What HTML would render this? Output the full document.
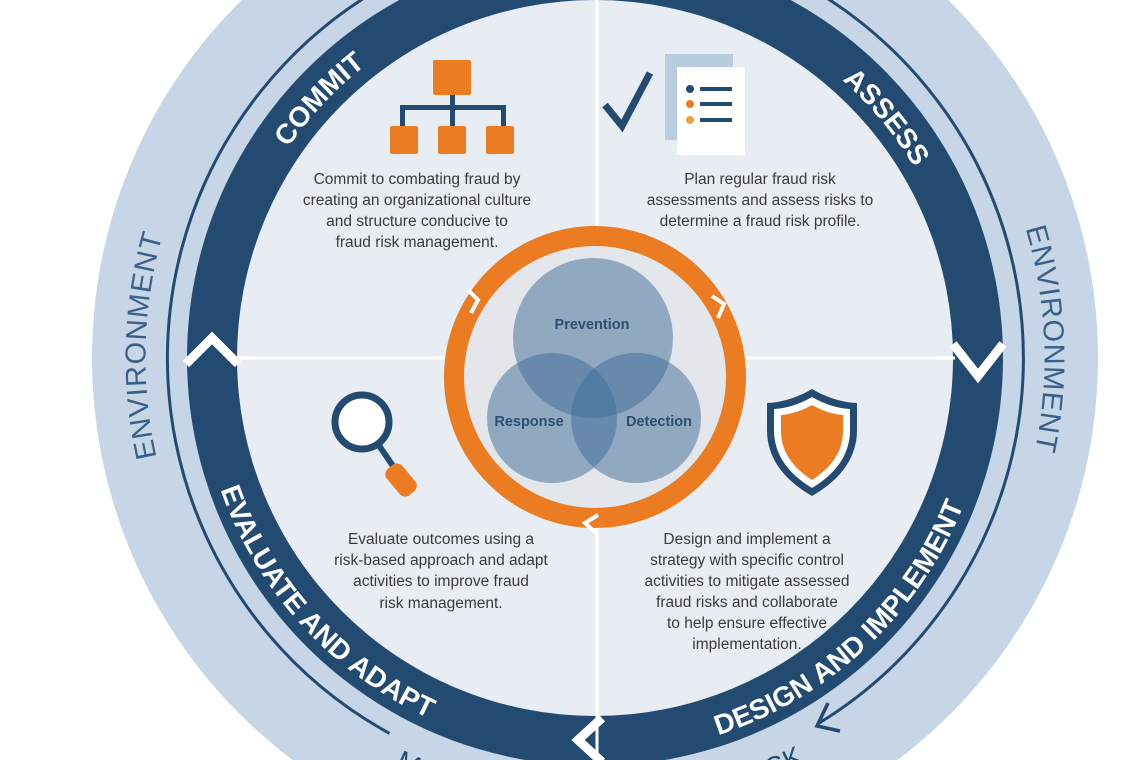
<!DOCTYPE html>
<html><head><meta charset="utf-8"><style>
html,body{margin:0;padding:0;background:#fff;overflow:hidden;}
svg{display:block;}
text{font-family:"Liberation Sans",Arial,sans-serif;}
</style></head><body>
<svg width="1140" height="760" viewBox="0 0 1140 760" xmlns="http://www.w3.org/2000/svg">
<defs>
<path id="topArc" d="M 223 358 A 372 372 0 0 1 967 358"/>
<path id="botArc" d="M 198 358 A 397 397 0 0 0 992 358"/>
<path id="leftEnv" d="M 250 647 A 452 452 0 0 1 250 69"/>
<path id="rightEnv" d="M 940 69 A 452 452 0 0 1 940 647"/>
<path id="outBot" d="M 140 358 A 455 455 0 0 0 1050 358"/>
</defs>
<rect width="1140" height="760" fill="#fff"/>
<circle cx="595" cy="358" r="503" fill="#c6d6e6"/>
<path d="M 389.5 733.4 A 428 428 0 1 1 817.6 724" fill="none" stroke="#234b72" stroke-width="3"/>
<polyline points="828,703 817,726 840,731" fill="none" stroke="#234b72" stroke-width="3.5"/>
<circle cx="595" cy="358" r="408" fill="#234b72"/>
<circle cx="595" cy="358" r="358" fill="#e8edf4"/>
<line x1="597" y1="0" x2="597" y2="760" stroke="#fff" stroke-width="3"/>
<line x1="236" y1="358" x2="955" y2="358" stroke="#fff" stroke-width="3"/>
<polyline points="186,364 212,338 238,364" fill="none" stroke="#fff" stroke-width="9"/>
<polyline points="953,344 978,376 1003,344" fill="none" stroke="#fff" stroke-width="9"/>
<polyline points="602,718 578,740 602,762" fill="none" stroke="#fff" stroke-width="9"/>
<text font-size="28" font-weight="bold" fill="#fff" text-anchor="middle"><textPath href="#topArc" startOffset="24%">COMMIT</textPath></text>
<text font-size="28" font-weight="bold" fill="#fff" text-anchor="middle"><textPath href="#topArc" startOffset="78%">ASSESS</textPath></text>
<text font-size="28" font-weight="bold" fill="#fff" text-anchor="middle"><textPath href="#botArc" startOffset="23.5%">EVALUATE AND ADAPT</textPath></text>
<text font-size="28" font-weight="bold" fill="#fff" text-anchor="middle"><textPath href="#botArc" startOffset="74%">DESIGN AND IMPLEMENT</textPath></text>
<text font-size="29" fill="#3b5f86" text-anchor="middle" letter-spacing="1"><textPath href="#leftEnv" startOffset="52%">ENVIRONMENT</textPath></text>
<text font-size="29" fill="#3b5f86" text-anchor="middle" letter-spacing="1"><textPath href="#rightEnv" startOffset="47%">ENVIRONMENT</textPath></text>
<text font-size="27" fill="#234b72" letter-spacing="1"><textPath href="#outBot" startOffset="35.5%">MONITORING</textPath></text>
<text font-size="27" fill="#234b72" text-anchor="end" letter-spacing="1"><textPath href="#outBot" startOffset="65.3%">FEEDBACK</textPath></text>
<g font-size="15.5" fill="#3a3a3a" text-anchor="middle">
<text x="417" y="184">Commit to combating fraud by</text>
<text x="417" y="205">creating an organizational culture</text>
<text x="417" y="226">and structure conducive to</text>
<text x="417" y="247">fraud risk management.</text>
<text x="760" y="184">Plan regular fraud risk</text>
<text x="760" y="205">assessments and assess risks to</text>
<text x="760" y="226">determine a fraud risk profile.</text>
<text x="441" y="544">Evaluate outcomes using a</text>
<text x="441" y="565">risk-based approach and adapt</text>
<text x="441" y="586">activities to improve fraud</text>
<text x="441" y="608">risk management.</text>
<text x="747" y="544">Design and implement a</text>
<text x="747" y="565">strategy with specific control</text>
<text x="747" y="586">activities to mitigate assessed</text>
<text x="747" y="607">fraud risks and collaborate</text>
<text x="747" y="628">to help ensure effective</text>
<text x="747" y="649">implementation.</text>
</g>
<g>
<rect x="433" y="60" width="38" height="35" rx="2" fill="#ec7c22"/>
<rect x="450" y="95" width="5" height="32" fill="#234b72"/>
<rect x="400" y="105" width="106" height="5" fill="#234b72"/>
<rect x="400" y="105" width="5" height="22" fill="#234b72"/>
<rect x="501" y="105" width="5" height="22" fill="#234b72"/>
<rect x="390" y="126" width="28" height="28" rx="2" fill="#ec7c22"/>
<rect x="438" y="126" width="28" height="28" rx="2" fill="#ec7c22"/>
<rect x="486" y="126" width="28" height="28" rx="2" fill="#ec7c22"/>
</g>
<polyline points="605,105 622,126 650,73" fill="none" stroke="#234b72" stroke-width="7"/>
<rect x="665" y="54" width="68" height="86" fill="#b8cce0"/>
<rect x="677" y="67" width="68" height="88" fill="#fff"/>
<circle cx="690" cy="89" r="4" fill="#234b72"/>
<circle cx="690" cy="104" r="4" fill="#ec7c22"/>
<circle cx="690" cy="120" r="4" fill="#f0a040"/>
<rect x="700" y="87" width="32" height="4" fill="#234b72"/>
<rect x="700" y="102" width="32" height="4" fill="#234b72"/>
<rect x="700" y="118" width="32" height="4" fill="#234b72"/>
<line x1="378" y1="444" x2="393" y2="466" stroke="#234b72" stroke-width="6"/>
<rect x="-10" y="-17" width="20" height="34" rx="7" fill="#ec7c22" transform="translate(401,480) rotate(-40)"/>
<circle cx="362" cy="422" r="27" fill="#fff" stroke="#234b72" stroke-width="7"/>
<path d="M812 389 Q790 402 767 403 L767 430 Q767 470 812 496 Q857 470 857 430 L857 403 Q834 402 812 389 Z" fill="#234b72"/>
<path d="M812 397 Q793 408 774 409 L774 430 Q774 465 812 488 Q850 465 850 430 L850 409 Q831 408 812 397 Z" fill="#fff"/>
<path d="M812 405 Q796 414 781 415 L781 431 Q781 460 812 480 Q843 460 843 431 L843 415 Q828 414 812 405 Z" fill="#ec7c22"/>
<circle cx="595" cy="377" r="141" fill="#e3e6eb" stroke="#ec7c22" stroke-width="20"/>
<polyline points="468,290 478,300 471,313" fill="none" stroke="#fff" stroke-width="4"/>
<polyline points="712,296 724,304 718,318" fill="none" stroke="#fff" stroke-width="4"/>
<polyline points="598,515 585,523 596,533" fill="none" stroke="#fff" stroke-width="4"/>
<g fill="#3e6b98" fill-opacity="0.5">
<circle cx="593" cy="338" r="80"/>
<circle cx="552" cy="418" r="65"/>
<circle cx="636" cy="418" r="65"/>
</g>
<g font-size="14.5" font-weight="bold" fill="#2c4e72" text-anchor="middle">
<text x="592" y="329">Prevention</text>
<text x="529" y="426">Response</text>
<text x="659" y="426">Detection</text>
</g>
</svg>
</body></html>
